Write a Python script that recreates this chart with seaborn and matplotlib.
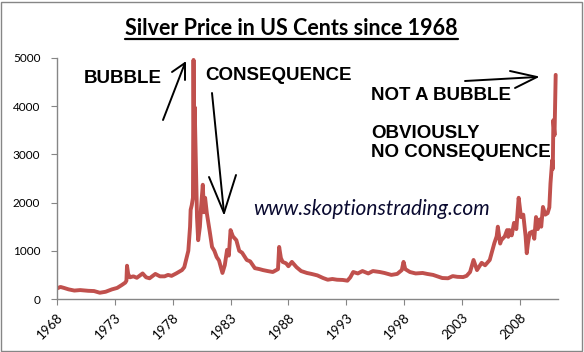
import numpy as np
import pandas as pd
import matplotlib
matplotlib.use("Agg")
import matplotlib.pyplot as plt
from matplotlib.lines import Line2D
from matplotlib.patches import Rectangle
import seaborn as sns

# silver price, US cents per ounce
years = [1968.0, 1968.3, 1968.6, 1969.0, 1969.5, 1970.0, 1970.7, 1971.2, 1971.7, 1972.2,
         1972.75, 1973.2, 1973.6, 1973.9, 1974.0, 1974.05, 1974.15, 1974.3, 1974.6, 1974.9,
         1975.4, 1975.7, 1976.0, 1976.5, 1976.9, 1977.3, 1977.6, 1977.9, 1978.3, 1978.8,
         1979.0, 1979.2, 1979.35, 1979.5, 1979.55, 1979.65, 1979.75, 1979.8, 1979.85, 1979.9,
         1980.0, 1980.1, 1980.2, 1980.35, 1980.45, 1980.6, 1980.7, 1980.8, 1980.95, 1981.2,
         1981.4, 1981.6, 1981.8, 1982.0, 1982.3, 1982.5, 1982.7, 1982.85, 1983.0, 1983.2,
         1983.5, 1983.75, 1984.0, 1984.4, 1984.7, 1985.1, 1985.5, 1985.8, 1986.2, 1986.65,
         1987.1, 1987.2, 1987.35, 1987.5, 1987.8, 1988.0, 1988.3, 1988.7, 1989.1, 1989.6,
         1990.0, 1990.5, 1991.0, 1991.4, 1991.8, 1992.2, 1992.7, 1993.1, 1993.35, 1993.6,
         1994.0, 1994.4, 1994.9, 1995.3, 1995.9, 1996.3, 1996.9, 1997.4, 1997.8, 1997.95,
         1998.1, 1998.5, 1999.0, 1999.6, 2000.0, 2000.5, 2001.0, 2001.3, 2001.8, 2002.2,
         2002.6, 2003.1, 2003.4, 2003.7, 2004.0, 2004.3, 2004.7, 2005.0, 2005.4, 2005.8,
         2006.0, 2006.1, 2006.3, 2006.4, 2006.7, 2006.9, 2007.0, 2007.1, 2007.3, 2007.5,
         2007.7, 2007.9, 2008.1, 2008.3, 2008.5, 2008.6, 2008.7, 2008.85, 2009.1, 2009.25,
         2009.4, 2009.55, 2009.7, 2009.85, 2010.0, 2010.2, 2010.4, 2010.55, 2010.65, 2010.8,
         2010.85, 2010.9, 2011.0, 2011.1]
cents = [220, 250, 230, 200, 175, 185, 170, 165, 130, 150,
         200, 230, 290, 340, 380, 690, 520, 450, 470, 440,
         530, 450, 430, 520, 470, 470, 500, 480, 530, 600,
         660, 850, 1000, 1500, 1850, 1950, 2100, 4960, 3000, 3980,
         2800, 1700, 1220, 1500, 1900, 2370, 1800, 2100, 1780, 1400,
         1080, 1000, 870, 800, 540, 700, 1020, 900, 1430, 1300,
         1220, 1000, 960, 810, 780, 640, 620, 600, 580, 560,
         620, 1080, 850, 770, 740, 680, 770, 660, 580, 540,
         520, 490, 435, 400, 415, 400, 395, 380, 450, 560,
         530, 580, 530, 580, 560, 540, 500, 520, 600, 770,
         620, 560, 530, 540, 520, 500, 460, 435, 430, 475,
         460, 455, 480, 560, 810, 600, 750, 700, 810, 1160,
         1300, 1500, 1150, 1220, 1300, 1430, 1290, 1430, 1320, 1580,
         1450, 2100, 1700, 1750, 1300, 950, 1150, 1370, 1400, 1250,
         1700, 1450, 1650, 1500, 1910, 1750, 1780, 1900, 2400, 2880,
         2700, 3710, 3400, 4650]
tick_years = [1968, 1973, 1978, 1983, 1988, 1993, 1998, 2003, 2008]
y_ticks = [0, 1000, 2000, 3000, 4000, 5000]

W, H = 584, 352
sns.set_theme(style="white")
plt.rcParams["font.family"] = ["Lato", "DejaVu Sans"]

fig = plt.figure(figsize=(W / 100, H / 100), dpi=100)
ax = fig.add_axes([57 / W, 1 - 299 / H, (558 - 57) / W, (299 - 58) / H])

df = pd.DataFrame({"year": years, "cents": cents})
sns.lineplot(data=df, x="year", y="cents", ax=ax, color="#C0504D", linewidth=2.8)

ax.set_xlim(1968, 2011.3)
ax.set_ylim(0, 5000)
ax.set_xticks(tick_years)
ax.set_yticks(y_ticks)
ax.set_xlabel("")
ax.set_ylabel("")
for s in ["top", "right"]:
    ax.spines[s].set_visible(False)
for s in ["left", "bottom"]:
    ax.spines[s].set_color("#868686")
    ax.spines[s].set_linewidth(1)
ax.tick_params(axis="both", direction="out", length=4, width=0.8, color="#868686",
               labelcolor="black")
ax.tick_params(axis="y", left=True, pad=8, labelsize=8.5)
ax.tick_params(axis="x", bottom=True, pad=5, labelsize=9.5)
for lab in ax.get_xticklabels():
    lab.set_rotation(45)
    lab.set_ha("right")
    lab.set_va("top")
    lab.set_rotation_mode("anchor")

# outer chart border
fig.patches.append(Rectangle((1 / W, 1 / H), (W - 3) / W, (H - 3) / H, transform=fig.transFigure,
                             fill=False, edgecolor="#868686", linewidth=1))


def px(x, y):
    return x / W, 1 - y / H


title = fig.text(*px(291.5, 35), "Silver Price in US Cents since 1968", ha="center", va="baseline",
                 fontsize=15.5, fontweight="bold", color="black")

bold = dict(family=["Liberation Sans", "DejaVu Sans"], fontweight="bold", fontsize=13.5,
            color="black", va="baseline", ha="left")
fig.text(*px(84, 83), "BUBBLE", **bold)
fig.text(*px(205, 80), "CONSEQUENCE", **bold)
fig.text(*px(371, 100), "NOT A BUBBLE", **bold)
fig.text(*px(371, 138), "OBVIOUSLY", **bold)
fig.text(*px(371, 157), "NO CONSEQUENCE", **bold)
fig.text(*px(253, 215), "www.skoptionstrading.com", ha="left", va="baseline",
         fontsize=15, style="italic", color="#0A0A30")

# hand drawn arrows
arrows = [
    [(163, 120), (185, 63)], [(172, 72), (185, 63), (185, 80)],
    [(212, 93), (224, 213)], [(209, 177), (224, 213), (236, 175)],
    [(465, 81), (537, 77)], [(510, 71), (537, 77), (515, 88)],
]
for pts in arrows:
    xs, ys = zip(*[px(*p) for p in pts])
    fig.add_artist(Line2D(xs, ys, transform=fig.transFigure, color="black", linewidth=1.4))

# underline the title
fig.canvas.draw()
bb = title.get_window_extent()
fig.add_artist(Line2D([bb.x0 / W, bb.x1 / W], [1 - 38.5 / H, 1 - 38.5 / H], transform=fig.transFigure,
                      color="black", linewidth=1.6))

fig.savefig("out.png", dpi=100)
